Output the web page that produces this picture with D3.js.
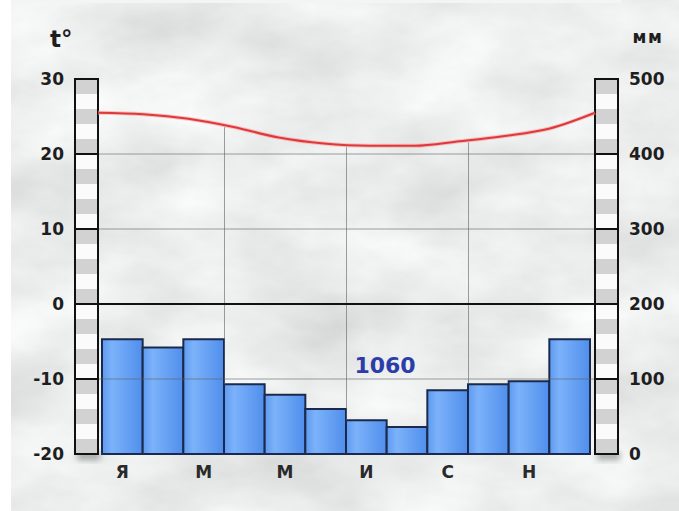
<!DOCTYPE html>
<html><head><meta charset="utf-8">
<script src="https://cdn.jsdelivr.net/npm/d3@7/dist/d3.min.js"></script>
<style>html,body{margin:0;padding:0;background:#fff;overflow:hidden}</style>
</head><body>
<svg id="c" width="679" height="511"></svg>
<script>
const months = ["Я","Ф","М","А","М","И","И","А","С","О","Н","Д"];
const monthLabels = ["Я","","М","","М","","И","","С","","Н",""];
const precip = [153,142,153,93,79,60,45,36,85,93,97,153];
const temps = [25.5,25.3,24.7,23.6,22.2,21.4,21.1,21.1,21.7,22.4,23.4,25.5];
const tempTicks = [30,20,10,0,-10,-20];
const precipTicks = [500,400,300,200,100,0];
const totalLabel = "1060";

(function(){
const svg = d3.select("#c");
const W = 679, H = 511;
const topY = 79, botY = 454;
const plotL = 98, plotR = 595;
const colW = 23;

const defs = svg.append("defs");
const f = defs.append("filter").attr("id","stone").attr("x",0).attr("y",0).attr("width","100%").attr("height","100%");
f.append("feTurbulence").attr("type","fractalNoise").attr("baseFrequency","0.008 0.014").attr("numOctaves",5).attr("seed",11).attr("result","n");
f.append("feColorMatrix").attr("in","n").attr("type","matrix")
 .attr("values","0.36 0 0 0 0.655  0.36 0 0 0 0.665  0.36 0 0 0 0.665  0 0 0 0 1").attr("result","c");

const bg = defs.append("linearGradient").attr("id","barg").attr("x1",0).attr("x2",1).attr("y1",0).attr("y2",0);
bg.append("stop").attr("offset","0%").attr("stop-color","#5e9af0");
bg.append("stop").attr("offset","25%").attr("stop-color","#7cb2fa");
bg.append("stop").attr("offset","100%").attr("stop-color","#4f8eec");

const sh = defs.append("filter").attr("id","sh").attr("x","-50%").attr("y","-50%").attr("width","200%").attr("height","200%");
sh.append("feGaussianBlur").attr("stdDeviation",3);

// background
svg.append("rect").attr("x",11).attr("y",0).attr("width",W-11).attr("height",H).attr("fill","#d3d7d7");
svg.append("rect").attr("x",11).attr("y",0).attr("width",W-11).attr("height",H).attr("filter","url(#stone)");
svg.append("rect").attr("x",11).attr("y",0).attr("width",610).attr("height",3).attr("fill","#f4f4f4");

const yT = d3.scaleLinear().domain([-20,30]).range([botY,topY]);
const yP = d3.scaleLinear().domain([0,500]).range([botY,topY]);
const xB = d3.scaleBand().domain(d3.range(12)).range([102,590]).padding(0);
const xL = d3.scalePoint().domain(d3.range(12)).range([plotL,plotR]);

const line = d3.line().x((d,i)=>xL(i)).y(d=>yT(d)).curve(d3.curveMonotoneX);
const tmpPath = svg.append("path").attr("d", line(temps)).attr("fill","none").attr("stroke","none");
function yAtX(x){
  const p = tmpPath.node(); const L = p.getTotalLength();
  let lo=0, hi=L;
  for(let k=0;k<40;k++){ const m=(lo+hi)/2; if(p.getPointAtLength(m).x<x) lo=m; else hi=m; }
  return p.getPointAtLength(lo).y;
}

// bars
svg.append("g").selectAll("rect").data(precip).join("rect")
  .attr("x",(d,i)=>xB(i)).attr("y",d=>yP(d))
  .attr("width",xB.bandwidth()).attr("height",d=>yP(0)-yP(d))
  .attr("fill","url(#barg)").attr("stroke","#1b2a4c").attr("stroke-width",2);

// horizontal grid
svg.append("g").selectAll("line").data(tempTicks.filter(t=>t!==0 && t!==30 && t!==-20)).join("line")
  .attr("x1",plotL).attr("x2",plotR).attr("y1",d=>yT(d)).attr("y2",d=>yT(d))
  .attr("stroke","#5d6366").attr("stroke-opacity",0.6).attr("stroke-width",1);
const vq = [3,6,9];
svg.append("g").selectAll("line").data(vq).join("line")
  .attr("x1",d=>Math.round(xB(d))+0.5).attr("x2",d=>Math.round(xB(d))+0.5)
  .attr("y1",d=>yAtX(xB(d))+2).attr("y2",d=>yP(precip[d]))
  .attr("stroke","#5d6366").attr("stroke-opacity",0.6).attr("stroke-width",1);
svg.append("line").attr("x1",plotL).attr("x2",plotR).attr("y1",yT(0)).attr("y2",yT(0))
  .attr("stroke","#111").attr("stroke-width",2);

function column(x0){
  svg.append("rect").attr("x",x0+2).attr("y",botY-2).attr("width",colW).attr("height",8)
    .attr("fill","#555").attr("opacity",0.5).attr("filter","url(#sh)");
  const g = svg.append("g");
  const stripes = d3.range(30,-20,-2);
  g.selectAll("rect.s").data(stripes).join("rect").attr("class","s")
    .attr("x",x0).attr("width",colW).attr("y",d=>yT(d)).attr("height",d=>yT(d-2)-yT(d))
    .attr("fill",(d,i)=>i%2===0?"#d2d2d2":"#fbfbfb");
  g.selectAll("line").data(tempTicks).join("line")
    .attr("x1",x0).attr("x2",x0+colW).attr("y1",d=>yT(d)).attr("y2",d=>yT(d))
    .attr("stroke","#111").attr("stroke-width",2);
  g.append("rect").attr("x",x0).attr("y",topY).attr("width",colW).attr("height",botY-topY)
    .attr("fill","none").attr("stroke","#111").attr("stroke-width",2);
}
column(plotL-colW);
column(plotR);

svg.append("path").attr("d", line(temps)).attr("fill","none").attr("stroke","#f5a0a0").attr("stroke-width",4).attr("opacity",0.6);
svg.append("path").attr("d", line(temps)).attr("fill","none").attr("stroke","#e0383a").attr("stroke-width",2);

const font = "'DejaVu Sans', Verdana, sans-serif";
svg.append("g").selectAll("text").data(tempTicks).join("text")
  .attr("x",64).attr("y",d=>yT(d)).attr("dy","0.36em").attr("text-anchor","end")
  .attr("font-family",font).attr("font-weight","bold").attr("font-size",17).attr("fill","#1e1e1e")
  .text(d=>d);
svg.append("g").selectAll("text").data(precipTicks).join("text")
  .attr("x",629).attr("y",d=>yP(d)).attr("dy","0.36em").attr("text-anchor","start")
  .attr("font-family",font).attr("font-weight","bold").attr("font-size",17).attr("fill","#1e1e1e")
  .text(d=>d);
svg.append("g").selectAll("text").data(monthLabels).join("text")
  .attr("x",(d,i)=>xB(i)+xB.bandwidth()/2).attr("y",478).attr("text-anchor","middle")
  .attr("font-family",font).attr("font-weight","bold").attr("font-size",17).attr("fill","#2a2a2a")
  .text(d=>d);
svg.append("text").attr("x",50).attr("y",47).attr("font-family",font).attr("font-weight","bold")
  .attr("font-size",23).attr("fill","#1e1e1e").text("t°");
svg.append("text").attr("x",648).attr("y",43).attr("text-anchor","middle").attr("font-family",font).attr("font-weight","bold")
  .attr("font-size",17).attr("letter-spacing",1.5).attr("fill","#1e1e1e").text("мм");
svg.append("text").attr("x",385).attr("y",373).attr("text-anchor","middle").attr("font-family",font).attr("font-weight","bold")
  .attr("font-size",22).attr("fill","#2b3da8").text(totalLabel);
tmpPath.remove();
})();
</script>
</body></html>
